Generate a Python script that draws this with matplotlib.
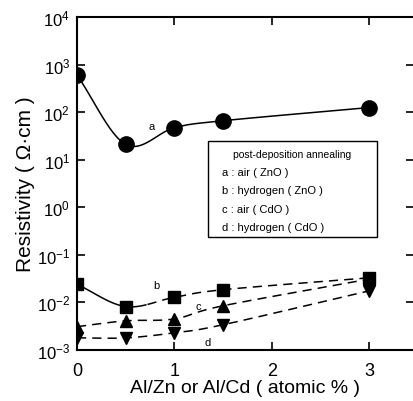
import numpy as np
import matplotlib
matplotlib.use("Agg")
import matplotlib.pyplot as plt

plt.rcParams['font.family'] = ['Liberation Sans', 'DejaVu Sans']
plt.rcParams['mathtext.fontset'] = 'custom'
plt.rcParams['mathtext.rm'] = 'Liberation Sans'
plt.rcParams['mathtext.it'] = 'Liberation Sans'

x_al = [0, 0.5, 1, 1.5, 3]
res_a = [600, 21, 47, 66, 125]
res_b = [0.024, 0.0082, 0.0128, 0.0185, 0.033]
res_c = [0.0031, 0.0041, 0.0045, 0.0085, 0.031]
res_d = [0.0018, 0.0018, 0.0023, 0.0034, 0.0175]
xticks = [0, 1, 2, 3]
ytick_exps = [-3, -2, -1, 0, 1, 2, 3, 4]
legend_title = "post-deposition annealing"
legend_lines = ["a : air ( ZnO )", "b : hydrogen ( ZnO )", "c : air ( CdO )", "d : hydrogen ( CdO )"]


def smooth(xs, ys, n=30):
    xs = np.asarray(xs, float)
    ly = np.log10(np.asarray(ys, float))
    px = np.concatenate([[2 * xs[0] - xs[1]], xs, [2 * xs[-1] - xs[-2]]])
    py = np.concatenate([[2 * ly[0] - ly[1]], ly, [2 * ly[-1] - ly[-2]]])
    ox, oy = [], []
    for i in range(1, len(px) - 2):
        t = np.linspace(0, 1, n)
        for arr, out in ((px, ox), (py, oy)):
            p0, p1, p2, p3 = arr[i - 1], arr[i], arr[i + 1], arr[i + 2]
            out.extend(0.5 * ((2 * p1) + (-p0 + p2) * t + (2 * p0 - 5 * p1 + 4 * p2 - p3) * t ** 2
                              + (-p0 + 3 * p1 - 3 * p2 + p3) * t ** 3))
    return np.array(ox), 10 ** np.array(oy)


fig = plt.figure(figsize=(4.14, 4.02), dpi=100)
ax = fig.add_axes([77 / 414, 1 - 351 / 402, (414 - 77) / 414, 333 / 402])
ax.set_yscale('log')
ax.set_xlim(0, 3.46)
ax.set_ylim(1e-3, 1e4)

lw = 1.1
sx, sy = smooth(x_al, res_a)
ax.plot(sx, sy, '-', color='black', lw=lw)
ax.plot(x_al, res_a, 'o', color='black', ms=11)

sx, sy = smooth(x_al, res_b)
m = sx <= 0.72
ax.plot(sx[m], sy[m], '-', color='black', lw=lw)
ax.plot(sx[~m], sy[~m], '--', color='black', lw=lw, dashes=(6, 4))
ax.plot(x_al, res_b, 's', color='black', ms=8.5)

sx, sy = smooth(x_al, res_c)
ax.plot(sx, sy, '--', color='black', lw=lw, dashes=(6, 4))
ax.plot(x_al, res_c, '^', color='black', ms=9)

sx, sy = smooth(x_al, res_d)
ax.plot(sx, sy, '--', color='black', lw=lw, dashes=(6, 4))
ax.plot(x_al, res_d, 'v', color='black', ms=9)

ax.text(0.77, 50, 'a', fontsize=8, ha='center', va='center')
ax.text(0.82, 0.023, 'b', fontsize=8, ha='center', va='center')
ax.text(1.25, 0.0083, 'c', fontsize=8, ha='center', va='center')
ax.text(1.34, 0.0015, 'd', fontsize=8, ha='center', va='center')

# legend box
lx0, lx1 = (208 - 77) / 337, (377 - 77) / 337
ly0, ly1 = (351 - 238) / 333, (351 - 142) / 333
ax.add_patch(plt.Rectangle((lx0, ly0), lx1 - lx0, ly1 - ly0, transform=ax.transAxes,
                           fill=True, facecolor='white', edgecolor='black', lw=1.0, zorder=5))
ax.text((lx0 + lx1) / 2, (351 - 155) / 333, legend_title, transform=ax.transAxes,
        fontsize=7.5, ha='center', va='center', zorder=6)
for i, s in enumerate(legend_lines):
    ax.text((222 - 77) / 337, (351 - (173 + 18.5 * i)) / 333, s, transform=ax.transAxes,
            fontsize=8, ha='left', va='center', zorder=6)

ax.set_xticks(xticks)
ax.set_xticklabels([str(v) for v in xticks], fontsize=13)
ax.set_yticks([10.0 ** e for e in ytick_exps])
ax.set_yticklabels([r'$10^{%d}$' % e for e in ytick_exps], fontsize=12)
ax.yaxis.set_minor_locator(matplotlib.ticker.NullLocator())
ax.tick_params(axis='both', direction='in', length=6, width=1.2, top=True, right=True)
ax.tick_params(axis='x', pad=9)
ax.tick_params(axis='y', pad=5)
ax.spines['right'].set_visible(False)
for s in ('left', 'bottom', 'top'):
    ax.spines[s].set_linewidth(1.5)

ax.set_xlabel('Al/Zn or Al/Cd ( atomic % )', fontsize=14, labelpad=0)
ax.set_ylabel('Resistivity ( Ω·cm )', fontsize=15, labelpad=1)

fig.savefig('out.png', dpi=100)
